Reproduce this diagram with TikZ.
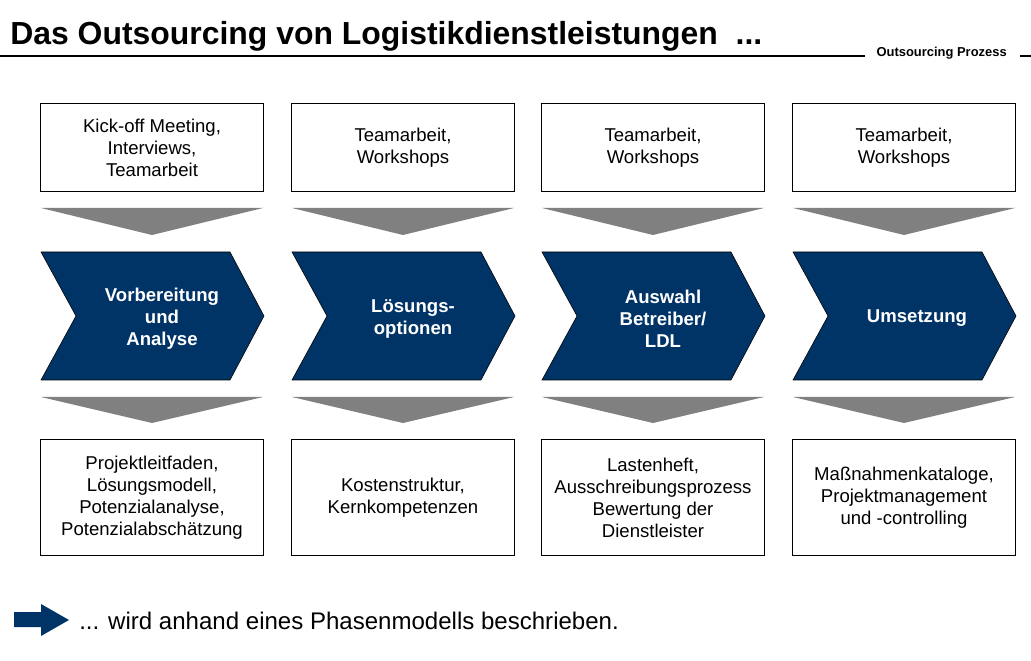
\documentclass[tikz,border=0pt]{standalone}
\usepackage{fontspec}
\setmainfont{Liberation Sans}
\definecolor{phaseblue}{RGB}{0,51,102}
\definecolor{arrowgray}{RGB}{128,128,128}

\begin{document}
\begin{tikzpicture}[x=0.025cm,y=-0.025cm,
	infobox/.style={draw,line width=0.7pt,minimum width=5.55cm,align=center,inner sep=0pt,font=\fontsize{13.2}{15.6}\selectfont},
	phasetext/.style={text=white,align=center,font=\fontsize{13.2}{15.6}\selectfont\bfseries},
	phase/.style={fill=phaseblue,draw=black,line width=0.4pt},
	downarrow/.style={fill=arrowgray}]
		\useasboundingbox (0,0) rectangle (1031,661);
		% header
		\node[anchor=base west,inner sep=0pt,font=\fontsize{22.7}{26}\selectfont\bfseries] (title) at (10,45) {Das Outsourcing von Logistikdienstleistungen~ ...};
		\node[anchor=base east,inner sep=0pt,font=\fontsize{9.2}{11}\selectfont\bfseries] (proc) at (1007,57) {Outsourcing Prozess};
		\draw[line width=0.8pt] (0,56) -- (865,56);
		\draw[line width=0.8pt] (1020,56) -- (1031,56);
		% top boxes
		\node[infobox,minimum height=2.175cm] (top1) at (152,147.5) {Kick-off Meeting,\\Interviews,\\Teamarbeit};
		\node[infobox,minimum height=2.175cm] (top2) at (403,147.5) {Teamarbeit,\\Workshops};
		\node[infobox,minimum height=2.175cm] (top3) at (653,147.5) {Teamarbeit,\\Workshops};
		\node[infobox,minimum height=2.175cm] (top4) at (904,147.5) {Teamarbeit,\\Workshops};
		% upper gray arrows
		\fill[downarrow] (41,208) -- ++(222,0) -- ++(-111,27) -- cycle;
		\fill[downarrow] (292,208) -- ++(222,0) -- ++(-111,27) -- cycle;
		\fill[downarrow] (542,208) -- ++(222,0) -- ++(-111,27) -- cycle;
		\fill[downarrow] (793,208) -- ++(222,0) -- ++(-111,27) -- cycle;
		% phases
		\draw[phase] (41,252) -- ++(189,0) -- ++(34,64) -- ++(-34,64) -- ++(-189,0) -- ++(35,-64) -- cycle;
		\draw[phase] (292,252) -- ++(189,0) -- ++(34,64) -- ++(-34,64) -- ++(-189,0) -- ++(35,-64) -- cycle;
		\draw[phase] (542,252) -- ++(189,0) -- ++(34,64) -- ++(-34,64) -- ++(-189,0) -- ++(35,-64) -- cycle;
		\draw[phase] (793,252) -- ++(189,0) -- ++(34,64) -- ++(-34,64) -- ++(-189,0) -- ++(35,-64) -- cycle;
		\node[phasetext] (ph1) at (162,319) {Vorbereitung\\und\\Analyse};
		\node[phasetext] (ph2) at (413,319) {Lösungs-\\optionen};
		\node[phasetext] (ph3) at (663,319) {Auswahl\\Betreiber/\\LDL};
		\node[phasetext] (ph4) at (917,318) {Umsetzung};
		% lower gray arrows
		\fill[downarrow] (41,397) -- ++(222,0) -- ++(-111,26) -- cycle;
		\fill[downarrow] (292,397) -- ++(222,0) -- ++(-111,26) -- cycle;
		\fill[downarrow] (542,397) -- ++(222,0) -- ++(-111,26) -- cycle;
		\fill[downarrow] (793,397) -- ++(222,0) -- ++(-111,26) -- cycle;
		% result boxes
		\node[infobox,minimum height=2.875cm] (res1) at (152,497.5) {Projektleitfaden,\\Lösungsmodell,\\Potenzialanalyse,\\Potenzialabschätzung};
		\node[infobox,minimum height=2.875cm] (res2) at (403,497.5) {Kostenstruktur,\\Kernkompetenzen};
		\node[infobox,minimum height=2.875cm] (res3) at (653,497.5) {Lastenheft,\\Ausschreibungsprozess\\Bewertung der\\Dienstleister};
		\node[infobox,minimum height=2.875cm] (res4) at (904,497.5) {Maßnahmenkataloge,\\Projektmanagement\\und -controlling};
		% footer
		\fill[phaseblue] (14,612) -- (41,612) -- (41,604) -- (69,620) -- (41,636) -- (41,627) -- (14,627) -- cycle;
		\node[anchor=base west,inner sep=0pt,font=\fontsize{17.1}{20}\selectfont] (note) at (79,629) {... wird anhand eines Phasenmodells beschrieben.};
\end{tikzpicture}
\end{document}
